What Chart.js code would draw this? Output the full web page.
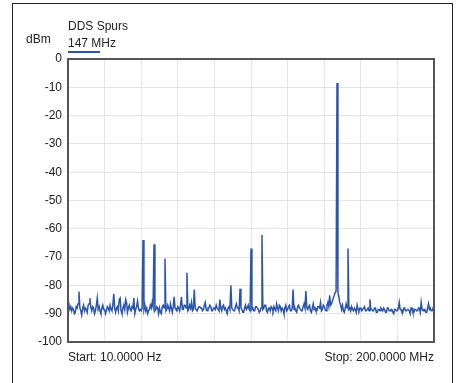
<!DOCTYPE html>
<html>
<head>
<meta charset="utf-8">
<script src="https://cdn.jsdelivr.net/npm/chart.js@4.4.1/dist/chart.umd.min.js"></script>
<style>
  body { margin: 0; background: #fff; }
  #frame { position: absolute; left: 12px; top: 3px; width: 439px; height: 400px; border: 1px solid #222; }
  canvas { position: absolute; left: 0; top: 0; }
</style>
</head>
<body>
<div id="frame"></div>
<canvas id="spurChart" width="457" height="383"></canvas>
<script>
// sweep points, 0.5 MHz apart
const freqMHz = [];
for (let i = 0; i <= 400; i++) freqMHz.push(i / 2);

// measured level in dBm, one row per 10 MHz
const levelDbm = [
  -86, -87, -88.5, -87.5, -89, -88, -88.5, -90, -89.5, -87.5, -88, -86.5, -82.2, -88, -89, -90.5, -88, -87, -89, -88,
  -88.5, -89.5, -87, -86.5, -84.5, -88, -89, -87.5, -88, -90, -89, -87, -84.5, -88.5, -87.5, -89, -90, -88, -87, -88.5,
  -88.5, -90, -89, -87.5, -88, -89, -87, -88.5, -89, -87, -83, -88, -89.5, -88, -87.5, -89, -85, -84.5, -89, -90,
  -88, -87, -88.5, -85, -86, -89.5, -88, -87, -88.5, -89, -87.5, -88, -84.5, -90, -88.5, -87.5, -85.5, -88, -89, -88.5,
  -89, -88, -64, -88.5, -87, -89, -88, -90, -89, -88.5, -87, -88, -86, -87.5, -65.5, -89, -88.5, -87.5, -88, -90,
  -88, -89.5, -90, -87.5, -87, -88, -70.5, -89, -88.5, -87, -88, -89, -86.5, -88, -89.5, -87.5, -84, -88, -88.5, -89,
  -87.5, -88, -89, -87, -84, -88.5, -88.5, -87, -87, -88, -75.5, -89, -88.5, -87, -88, -86, -89, -88.5, -81.5, -88,
  -88.5, -89, -89, -87.5, -87.5, -88, -88, -89, -88.5, -87, -86, -88.5, -89, -88, -88, -87, -87.5, -89, -89, -88,
  -88, -88.5, -87, -88, -88.5, -89, -85, -88, -89, -87.5, -87, -88.5, -88, -89, -90, -88, -87.5, -88.5, -80, -88,
  -88.5, -89, -89, -87.5, -86.5, -88, -88, -89, -81.2, -88, -88.5, -89.5, -89.5, -88, -87, -88.5, -88, -87, -88.5, -89,
  -67, -88.5, -88, -89, -89, -87.5, -87.5, -88, -88.5, -89.5, -89, -88, -62.2, -88.5, -88, -87, -87, -89, -89.5, -88,
  -88, -89, -87.5, -88, -89, -87.5, -88.5, -89, -86.5, -88, -89, -87, -87.5, -89, -88, -88.5, -90, -88, -87, -89,
  -88.5, -87.5, -87, -89, -89, -88, -81.5, -88.5, -88, -89, -89.5, -87.5, -87, -88, -88.5, -89, -89, -87.5, -86.5, -88,
  -82, -88, -88.5, -87.5, -87, -89, -89.5, -88, -86.5, -88.5, -88, -89, -89, -87.5, -87.5, -88, -86, -89, -88.5, -87,
  -87.5, -88.5, -89, -87, -86, -87.5, -83.5, -87, -86.5, -85.5, -84.5, -83.5, -82.5, -82, -8.5, -82.5, -84, -86, -87, -88.5,
  -87, -89, -89.5, -88, -86.5, -88, -67, -88.5, -88, -89, -87.5, -88.5, -89, -88, -88.5, -89.5, -87, -88.5, -89, -88,
  -88, -89, -88.5, -88, -87.5, -89, -89, -88.5, -88, -89, -85, -88.5, -88.5, -89, -89, -88, -88, -89.5, -89.5, -88.5,
  -88.5, -89, -88, -88.5, -89, -88, -88.5, -89.5, -89.5, -88, -88, -89, -89, -88.5, -88.5, -89.5, -90, -88.5, -88.5, -89,
  -89, -88, -86, -88.5, -88.5, -89.5, -89.5, -88, -88, -89, -89, -88.5, -88.5, -89, -90, -88, -88, -89.5, -89.5, -88.5,
  -88.5, -89, -89, -88, -88, -89.5, -86, -88.5, -89, -88.5, -88.5, -89.5, -89.5, -88, -86.5, -88.5, -88, -89, -89, -88,
  -88.5
];

const traceName = 'DDS Spurs';
const markerLabel = '147 MHz';
const unitLabel = 'dBm';
const startLabel = 'Start: 10.0000 Hz';
const stopLabel = 'Stop: 200.0000 MHz';

const traceColor = '#2b55aa';
const fontFamily = '"Liberation Sans", Arial, sans-serif';

const annotations = {
    id: 'annotations',
    afterDraw(chart) {
        const ctx = chart.ctx;
        const area = chart.chartArea;
        ctx.save();
        // plot frame
        ctx.strokeStyle = '#555';
        ctx.lineWidth = 2;
        ctx.strokeRect(area.left, area.top, area.right - area.left, area.bottom - area.top);

        ctx.fillStyle = '#222';
        ctx.font = '12px ' + fontFamily;
        ctx.textBaseline = 'alphabetic';
        ctx.textAlign = 'left';
        ctx.fillText(traceName, area.left, 30);
        ctx.fillText(markerLabel, area.left, 47);
        ctx.fillText(unitLabel, 26, 43);
        ctx.fillText(startLabel, area.left, 361);
        ctx.textAlign = 'right';
        ctx.fillText(stopLabel, area.right, 361);

        ctx.strokeStyle = traceColor;
        ctx.lineWidth = 2;
        ctx.beginPath();
        ctx.moveTo(area.left, 52);
        ctx.lineTo(area.left + 32, 52);
        ctx.stroke();
        ctx.restore();
    }
};

new Chart(document.getElementById('spurChart'), {
    type: 'line',
    data: {
        datasets: [{
            data: freqMHz.map((f, i) => ({ x: f, y: levelDbm[i] })),
            borderColor: traceColor,
            borderWidth: 1.5,
            pointRadius: 0,
            tension: 0
        }]
    },
    options: {
        responsive: false,
        animation: false,
        layout: {
            padding: { left: 12, top: 59, right: 23, bottom: 41 }
        },
        plugins: {
            legend: { display: false },
            tooltip: { enabled: false }
        },
        scales: {
            x: {
                type: 'linear',
                min: 0,
                max: 200,
                ticks: { display: false, stepSize: 20 },
                grid: { color: '#e4e4e4', drawTicks: false },
                border: { display: false },
                afterFit: function (s) { s.height = 0; }
            },
            y: {
                min: -100,
                max: 0,
                ticks: {
                    stepSize: 10,
                    padding: 6,
                    color: '#222',
                    font: { size: 12, family: fontFamily }
                },
                grid: { color: '#e4e4e4', drawTicks: false },
                border: { display: false },
                afterFit: function (s) { s.width = 56; }
            }
        }
    },
    plugins: [annotations]
});
</script>
</body>
</html>
